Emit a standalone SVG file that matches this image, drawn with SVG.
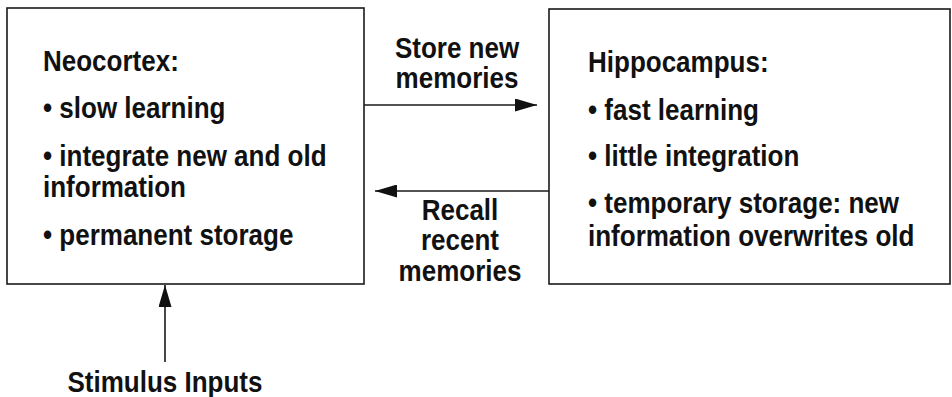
<svg xmlns="http://www.w3.org/2000/svg" width="952" height="397" viewBox="0 0 952 397">
<style>
.box{fill:#fff;stroke:#1a1a1a;stroke-width:1.6}
.t{font-family:"Liberation Sans",Arial,sans-serif;font-weight:bold;font-size:26px;fill:#111}
.c{text-anchor:middle}
.ln{stroke:#1a1a1a;stroke-width:1.6;fill:none}
</style>
<defs>
<marker id="ah" viewBox="0 0 22 13" refX="22" refY="6.5" markerWidth="22" markerHeight="13" markerUnits="userSpaceOnUse" orient="auto">
<path d="M0,0 L22,6.5 L0,13 Z" fill="#111"/>
</marker>
</defs>
<rect width="952" height="397" fill="#fff"/>
<g id="neocortex">
<rect class="box" x="7" y="8" width="357" height="276"/>
<text class="t" transform="translate(43,71) scale(1,1.1)">Neocortex:</text>
<text class="t" transform="translate(43,118) scale(1,1.1)">• slow learning</text>
<text class="t" transform="translate(43,166) scale(1,1.1)">• integrate new and old</text>
<text class="t" transform="translate(43,197) scale(1,1.1)">information</text>
<text class="t" transform="translate(43,245) scale(1,1.1)">• permanent storage</text>
</g>
<g id="hippocampus">
<rect class="box" x="549" y="9" width="401" height="275"/>
<text class="t" transform="translate(588,72) scale(1,1.1)">Hippocampus:</text>
<text class="t" transform="translate(588,120) scale(1,1.1)">• fast learning</text>
<text class="t" transform="translate(588,166) scale(1,1.1)">• little integration</text>
<text class="t" transform="translate(588,213) scale(1,1.1)">• temporary storage: new</text>
<text class="t" transform="translate(588,246) scale(1,1.1)">information overwrites old</text>
</g>
<g id="connectors">
<line class="ln" x1="364" y1="105" x2="537" y2="105" marker-end="url(#ah)"/>
<line class="ln" x1="549" y1="191" x2="375" y2="191" marker-end="url(#ah)"/>
<line class="ln" x1="165" y1="362" x2="165" y2="285" marker-end="url(#ah)"/>
</g>
<g id="labels">
<text class="t c" transform="translate(457,58) scale(1,1.1)">Store new</text>
<text class="t c" transform="translate(457,88) scale(1,1.1)">memories</text>
<text class="t c" transform="translate(460,220) scale(1,1.1)">Recall</text>
<text class="t c" transform="translate(460,250) scale(1,1.1)">recent</text>
<text class="t c" transform="translate(460,281) scale(1,1.1)">memories</text>
<text class="t c" transform="translate(165,392) scale(1,1.1)">Stimulus Inputs</text>
</g>
</svg>
